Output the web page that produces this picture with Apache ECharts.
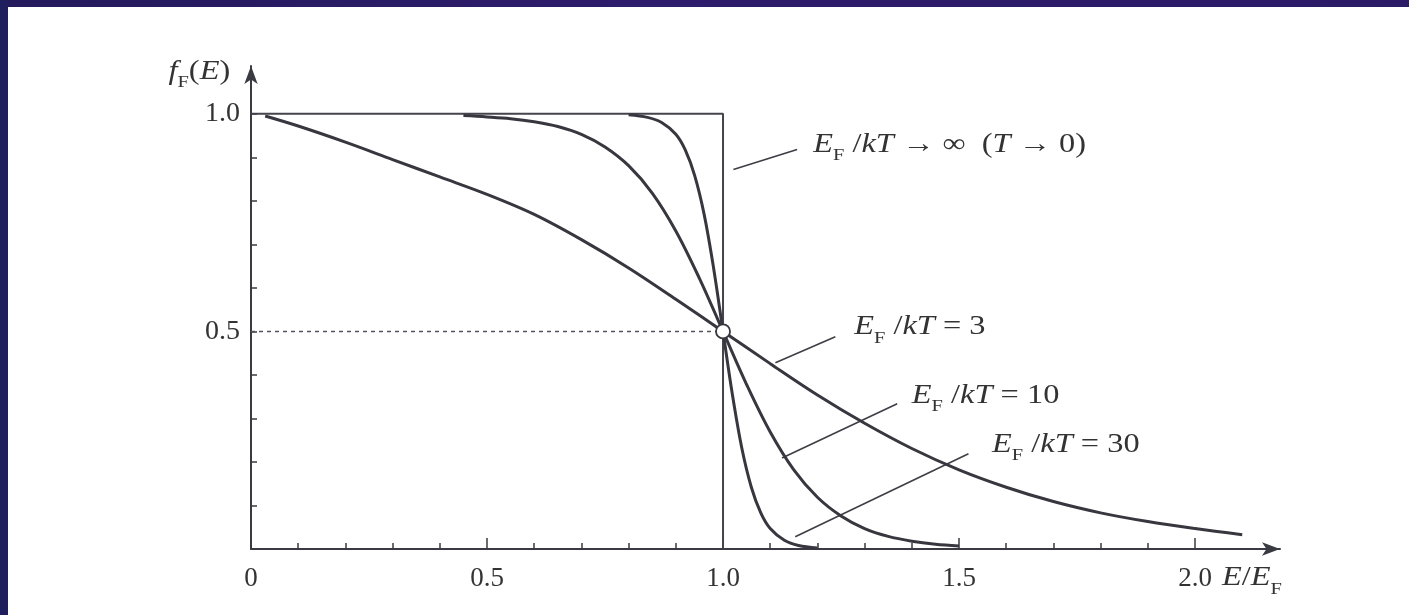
<!DOCTYPE html>
<html>
<head>
<meta charset="utf-8">
<script src="https://cdn.jsdelivr.net/npm/echarts@6/dist/echarts.min.js"></script>
<style>
  html, body { margin: 0; padding: 0; background: #ffffff; }
  #chart { width: 1409px; height: 615px; }
</style>
</head>
<body>
<div id="chart"></div>
<script>
// Fermi–Dirac occupation f_F(E) against E/E_F for several values of E_F/kT

// E_F/kT = 3
const energy3 = [0.03, 0.1, 0.2, 0.3, 0.4, 0.5, 0.6, 0.7, 0.8, 0.9, 1.0, 1.1, 1.2, 1.3, 1.4, 1.5, 1.6, 1.7, 1.8, 1.9, 2.0, 2.1];
const occ3    = [0.995, 0.972, 0.935, 0.895, 0.855, 0.815, 0.769, 0.711, 0.646, 0.574, 0.5, 0.426, 0.354, 0.289, 0.231, 0.182, 0.142, 0.109, 0.083, 0.063, 0.047, 0.033];

// E_F/kT = 10
const energy10 = [0.45, 0.5, 0.55, 0.6, 0.65, 0.7, 0.75, 0.8, 0.85, 0.9, 0.95, 1.0, 1.05, 1.1, 1.15, 1.2, 1.25, 1.3, 1.35, 1.4, 1.45, 1.5];
const occ10    = [0.996, 0.993, 0.989, 0.982, 0.971, 0.953, 0.924, 0.881, 0.818, 0.731, 0.622, 0.5, 0.378, 0.269, 0.182, 0.119, 0.076, 0.047, 0.029, 0.018, 0.011, 0.007];

// E_F/kT = 30
const energy30 = [0.8, 0.84, 0.87, 0.9, 0.92, 0.94, 0.96, 0.98, 1.0, 1.02, 1.04, 1.06, 1.08, 1.1, 1.13, 1.16, 1.2];
const occ30    = [0.998, 0.992, 0.98, 0.953, 0.917, 0.858, 0.769, 0.646, 0.5, 0.354, 0.231, 0.142, 0.083, 0.047, 0.02, 0.008, 0.0025];

// T -> 0 limit: step at E = E_F
const energyStep = [0, 1.0, 1.0];
const occStep    = [1.0, 1.0, 0];

// half-occupation guide and the point where all curves cross
const energyHalf = [0, 1.0];
const occHalf    = [0.5, 0.5];
const crossing   = [1.0, 0.5];

// leader lines from curve to caption: [x0, y0, x1, y1]
const leaderInf = [1.022, 0.872, 1.157, 0.918];
const leader3   = [1.111, 0.428, 1.238, 0.488];
const leader10  = [1.125, 0.209, 1.369, 0.334];
const leader30  = [1.153, 0.028, 1.520, 0.219];

// axis ticks and labels
const xMinorTicks = [0.1, 0.2, 0.3, 0.4, 0.6, 0.7, 0.8, 0.9, 1.1, 1.2, 1.3, 1.4, 1.6, 1.7, 1.8, 1.9];
const xMajorTicks = [0.5, 1.0, 1.5, 2.0];
const xLabelValues = [0, 0.5, 1.0, 1.5, 2.0];
const xLabelTexts  = ['0', '0.5', '1.0', '1.5', '2.0'];
const yTicks = [0.1, 0.2, 0.3, 0.4, 0.5, 0.6, 0.7, 0.8, 0.9, 1.0];
const yLabelValues = [0.5, 1.0];
const yLabelTexts  = ['0.5', '1.0'];

const zip = (xs, ys) => xs.map((x, i) => [x, ys[i]]);
const seg = (s) => [[s[0], s[1]], [s[2], s[3]]];

const INK = '#38373f';
const SERIF = '"Liberation Serif", "DejaVu Serif", serif';
const X_MAX = 2.18, Y_MAX = 1.11;

const labelFor = (values, texts) => (v) => {
  const i = values.findIndex(t => Math.abs(t - v) < 1e-6);
  return i >= 0 ? texts[i] : '';
};

const chart = echarts.init(document.getElementById('chart'), null, { renderer: 'canvas' });

const curve = (data) => ({
  type: 'line', data, showSymbol: false, smooth: 0.35,
  lineStyle: { color: INK, width: 3 }, silent: true, z: 3
});
const plain = (data, style) => ({
  type: 'line', data, showSymbol: false, lineStyle: style, silent: true, z: 2
});

chart.setOption({
  animation: false,
  backgroundColor: '#ffffff',
  grid: { left: 251, right: 129, top: 66, bottom: 66, containLabel: false },
  xAxis: [
    {
      type: 'value', min: 0, max: X_MAX, position: 'bottom',
      axisLine: { show: true, lineStyle: { color: '#3a3a42', width: 2 }, symbol: ['none', 'arrow'], symbolSize: [10, 18] },
      axisTick: { show: true, inside: true, length: 6, customValues: xMinorTicks, lineStyle: { color: '#3a3a42', width: 1.5 } },
      axisLabel: {
        show: true, customValues: xLabelValues, formatter: labelFor(xLabelValues, xLabelTexts),
        margin: 16, fontFamily: SERIF, fontSize: 27, color: '#333'
      },
      splitLine: { show: false }
    },
    {
      type: 'value', min: 0, max: X_MAX, position: 'bottom',
      axisLine: { show: false },
      axisTick: { show: true, inside: true, length: 11, customValues: xMajorTicks, lineStyle: { color: '#3a3a42', width: 1.5 } },
      axisLabel: { show: false },
      splitLine: { show: false }
    }
  ],
  yAxis: {
    type: 'value', min: 0, max: Y_MAX,
    axisLine: { show: true, lineStyle: { color: '#3a3a42', width: 2 }, symbol: ['none', 'arrow'], symbolSize: [10, 18] },
    axisTick: { show: true, inside: true, length: 6, customValues: yTicks, lineStyle: { color: '#3a3a42', width: 1.5 } },
    axisLabel: {
      show: true, customValues: yLabelValues, formatter: labelFor(yLabelValues, yLabelTexts),
      margin: 11, fontFamily: SERIF, fontSize: 28, color: '#333'
    },
    splitLine: { show: false }
  },
  series: [
    plain(zip(energyStep, occStep), { color: '#45444c', width: 2 }),
    plain(zip(energyHalf, occHalf), { color: '#55545c', width: 1.6, type: [4, 4] }),
    curve(zip(energy3, occ3)),
    curve(zip(energy10, occ10)),
    curve(zip(energy30, occ30)),
    plain(seg(leaderInf), { color: '#3f3e46', width: 1.6 }),
    plain(seg(leader3),   { color: '#3f3e46', width: 1.6 }),
    plain(seg(leader10),  { color: '#3f3e46', width: 1.6 }),
    plain(seg(leader30),  { color: '#3f3e46', width: 1.6 }),
    {
      type: 'scatter', data: [crossing], symbol: 'circle', symbolSize: 14, silent: true, z: 6,
      itemStyle: { color: '#ffffff', opacity: 1, borderColor: '#38373f', borderWidth: 1.8 }
    }
  ]
});

// captions, placed at data coordinates
const rich = {
  i: { fontFamily: SERIF, fontStyle: 'italic', fontSize: 27, fill: '#333' },
  r: { fontFamily: SERIF, fontSize: 27, fill: '#333' },
  s: { fontFamily: SERIF, fontSize: 17, fill: '#333', padding: [22, 0, 0, 0] }
};
const captions = [
  { at: [1.191, 0.929], align: 'left',  text: '{i|E}{s|F}{r| /}{i|kT}{r| → ∞  (}{i|T}{r| → 0)}' },
  { at: [1.278, 0.510], align: 'left',  text: '{i|E}{s|F}{r| /}{i|kT}{r| = 3}' },
  { at: [1.400, 0.352], align: 'left',  text: '{i|E}{s|F}{r| /}{i|kT}{r| = 10}' },
  { at: [1.570, 0.239], align: 'left',  text: '{i|E}{s|F}{r| /}{i|kT}{r| = 30}' },
  { at: [-0.044, 1.097], align: 'right', text: '{i|f}{s|F}{r|(}{i|E}{r|)}' },
  { at: [2.057, -0.067], align: 'left',  text: '{i|E}{r|/}{i|E}{s|F}' }
];

const graphic = [
  {
    type: 'rect', silent: true, z: 20,
    shape: { x: 0, y: 0, width: 1409, height: 7 },
    style: { fill: new echarts.graphic.LinearGradient(0, 0, 1, 0, [
      { offset: 0, color: '#241a5c' }, { offset: 0.45, color: '#2e1c6c' }, { offset: 1, color: '#2b1a66' }
    ]) }
  },
  {
    type: 'rect', silent: true, z: 20,
    shape: { x: 0, y: 0, width: 8, height: 615 },
    style: { fill: '#1f1f5e' }
  }
];
captions.forEach(c => {
  const p = chart.convertToPixel({ gridIndex: 0 }, c.at);
  graphic.push({
    type: 'text', x: p[0], y: p[1], scaleX: 1.2, silent: true, z: 10,
    style: { text: c.text, rich, align: c.align, verticalAlign: 'middle' }
  });
});
chart.setOption({ graphic });
</script>
</body>
</html>
